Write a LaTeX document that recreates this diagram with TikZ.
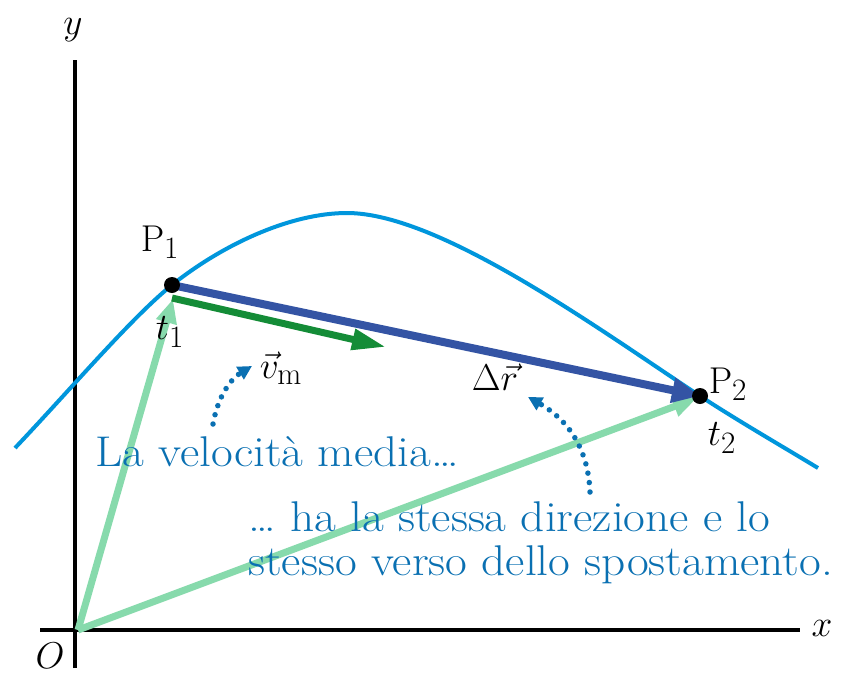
\documentclass[tikz,border=0pt]{standalone}
\usepackage{graphicx}
\usetikzlibrary{arrows.meta}
\definecolor{curveblue}{RGB}{0,150,220}
\definecolor{darkblue}{RGB}{52,84,164}
\definecolor{vgreen}{RGB}{20,140,55}
\definecolor{lgreen}{RGB}{135,218,172}
\definecolor{textblue}{RGB}{10,112,178}
\newcommand{\capwide}[1]{\scalebox{1.1}[1]{#1}}
\newcommand{\mlbl}[1]{\scalebox{1.5}{\Huge$#1$}}
\begin{document}
\begin{tikzpicture}[x=1pt,y=-1pt,
  axis/.style={line width=4.5pt,black},
  posvec/.style={line width=7pt,lgreen,-{Triangle[length=24pt,width=20pt]}},
  disp/.style={line width=8pt,darkblue,-{Triangle[length=28pt,width=24pt]}},
  velvec/.style={line width=7pt,vgreen,-{Triangle[length=34pt,width=20pt]}},
  hint/.style={line width=5.5pt,textblue,line cap=round,dash pattern=on 0pt off 9.5pt,-{Triangle[length=14pt,width=14pt]}},
  lbl/.style={inner sep=0pt},
  caption/.style={inner sep=0pt,anchor=base west,textblue,font=\fontsize{43}{48}\selectfont}]
\useasboundingbox (0,0) rectangle (846,678);
% axes
\coordinate (O) at (78,630);
\coordinate (ytop) at (75,60);
\coordinate (ybot) at (75,668);
\coordinate (xl) at (40,630);
\coordinate (xr) at (800,630);
\draw[axis] (ybot) -- (ytop);
\draw[axis] (xl) -- (xr);
\node[lbl] (ylab) at (73,30) {\mlbl{y}};
\node[lbl] (xlab) at (822,628) {\mlbl{x}};
\node[lbl] (olab) at (50,656) {\mlbl{O}};
% trajectory
\coordinate (P1) at (172,285);
\coordinate (P2) at (700,396);
\coordinate (cs) at (15,448);
\coordinate (top) at (347,213);
\coordinate (ce) at (818,468);
\draw[line width=4pt,curveblue] (cs) .. controls (70,390) and (132,317) .. (P1)
  .. controls (222,245) and (290,213) .. (top)
  .. controls (440,213) and (600,330) .. (P2)
  .. controls (740,422) and (780,445) .. (ce);
\coordinate (P1b) at (173,299);
\coordinate (P2b) at (697,398);
% position vectors
\draw[posvec] (O) -- (P1b);
\draw[posvec] (O) -- (P2b);
% displacement
\draw[disp] (P1) -- (P2);
% average velocity
\coordinate (v0) at (172,298);
\coordinate (v1) at (386,347);
\draw[velvec] (v0) -- (v1);
% points
\fill[black] (P1) circle (8pt);
\fill[black] (P2) circle (8pt);
% labels
\node[lbl] (p1lab) at (160,242) {\mlbl{\mathrm{P}_1}};
\node[lbl] (t1lab) at (170,332) {\mlbl{t_1}};
\node[lbl] (p2lab) at (728,384) {\mlbl{\mathrm{P}_2}};
\node[lbl] (t2lab) at (722,438) {\mlbl{t_2}};
\node[lbl] (vlab) at (281,368) {\mlbl{\vec v_{\mathrm{m}}}};
\node[lbl] (rlab) at (495,377) {\mlbl{\Delta\vec r}};
% captions
\node[caption] (c1) at (95,466) {\capwide{La velocità media\dots}};
\node[caption] (c2) at (248,531) {\capwide{\dots\ ha la stessa direzione e lo}};
\node[caption] (c3) at (248,575) {\capwide{stesso verso dello spostamento.}};
% hint arrows
\coordinate (h1s) at (213,424);
\coordinate (h1e) at (252,366);
\coordinate (h2s) at (590,492);
\coordinate (h2e) at (528,397);
\draw[hint] (h1s) .. controls (218,395) and (232,378) .. (h1e);
\draw[hint] (h2s) .. controls (588,445) and (565,418) .. (h2e);
\end{tikzpicture}
\end{document}
